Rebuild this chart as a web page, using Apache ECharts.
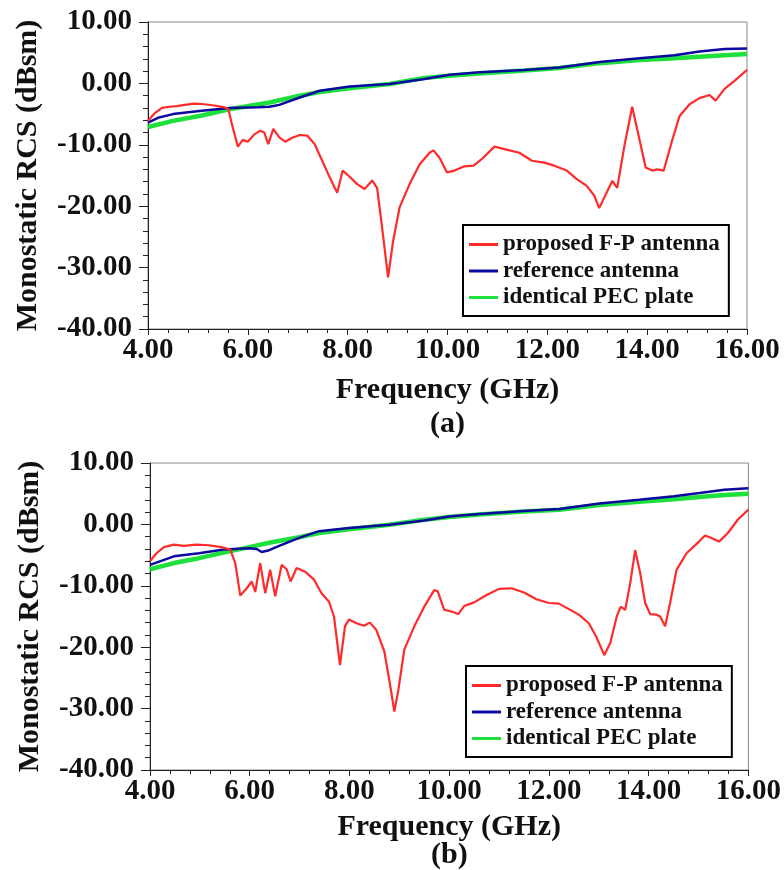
<!DOCTYPE html>
<html>
<head>
<meta charset="utf-8">
<script src="https://cdn.jsdelivr.net/npm/echarts@6/dist/echarts.min.js"></script>
<style>
html,body{margin:0;padding:0;background:#fff;}
#chart{width:784px;height:870px;}
</style>
</head>
<body>
<div id="chart"></div>
<script>
// ---- Chart (a) ----
const redAFreq = [4.00,4.13,4.28,4.43,4.58,4.73,4.93,5.13,5.33,5.53,5.61,5.68,5.80,5.90,6.00,6.13,6.25,6.33,6.41,6.51,6.63,6.75,6.88,7.04,7.19,7.34,7.49,7.64,7.79,7.90,8.04,8.19,8.34,8.49,8.59,8.69,8.81,8.91,9.04,9.24,9.44,9.64,9.72,9.84,9.99,10.14,10.34,10.52,10.69,10.94,11.14,11.44,11.69,11.94,12.14,12.39,12.59,12.79,12.94,13.04,13.14,13.30,13.40,13.55,13.70,13.85,13.97,14.10,14.20,14.33,14.50,14.65,14.85,15.05,15.25,15.37,15.55,15.75,16.00];
const redAVal  = [-6.1,-4.9,-4.0,-3.8,-3.7,-3.5,-3.3,-3.4,-3.6,-3.9,-4.2,-6.6,-10.3,-9.2,-9.5,-8.3,-7.7,-8.0,-9.9,-7.4,-8.8,-9.5,-8.9,-8.4,-8.5,-9.9,-12.6,-15.3,-17.8,-14.2,-15.2,-16.4,-17.2,-15.8,-17.0,-23.5,-31.6,-25.7,-20.2,-16.4,-13.2,-11.3,-10.9,-12.1,-14.5,-14.2,-13.5,-13.4,-12.3,-10.3,-10.7,-11.3,-12.6,-12.9,-13.4,-14.2,-15.6,-16.7,-18.3,-20.3,-18.6,-15.9,-17.0,-9.9,-3.8,-9.3,-13.7,-14.2,-14.0,-14.2,-9.3,-5.3,-3.4,-2.4,-1.9,-2.8,-0.9,0.4,2.2];

const blueAFreq = [4.00,4.20,4.50,5.03,5.63,6.20,6.43,6.63,7.04,7.44,8.04,8.84,9.54,10.04,10.64,11.54,12.24,13.05,13.85,14.55,15.05,15.55,16.00];
const blueAVal  = [-6.4,-5.6,-5.0,-4.5,-4.0,-3.9,-3.8,-3.5,-2.3,-1.2,-0.5,-0.1,0.7,1.4,1.8,2.2,2.6,3.5,4.1,4.6,5.2,5.6,5.7];

const greenAFreq = [4.00,4.50,5.03,5.63,6.43,7.04,7.44,8.04,8.84,9.54,10.04,10.64,11.54,12.24,13.05,13.85,14.55,15.05,15.55,16.00];
const greenAVal  = [-7.1,-6.1,-5.3,-4.2,-3.1,-2.0,-1.4,-0.8,-0.1,0.9,1.25,1.6,2.1,2.5,3.3,3.8,4.1,4.35,4.6,4.8];

// ---- Chart (b) ----
const redBFreq = [4.00,4.13,4.28,4.48,4.68,4.93,5.18,5.43,5.61,5.71,5.81,5.94,6.04,6.11,6.21,6.31,6.41,6.51,6.64,6.74,6.82,6.94,7.11,7.29,7.44,7.59,7.69,7.81,7.91,7.99,8.14,8.29,8.41,8.54,8.70,8.82,8.90,8.98,9.10,9.30,9.50,9.70,9.77,9.90,10.05,10.18,10.30,10.50,10.75,11.00,11.25,11.50,11.75,12.00,12.20,12.40,12.60,12.80,12.95,13.11,13.23,13.36,13.44,13.53,13.63,13.73,13.83,13.93,14.03,14.16,14.23,14.33,14.43,14.56,14.76,15.01,15.13,15.26,15.41,15.59,15.79,16.00];
const redBVal  = [-6.0,-4.7,-3.7,-3.3,-3.5,-3.3,-3.4,-3.7,-4.1,-6.3,-11.6,-10.4,-9.3,-11.0,-6.3,-11.2,-7.4,-11.7,-6.6,-7.3,-9.3,-7.1,-7.7,-9.0,-11.2,-12.6,-15.0,-22.9,-16.6,-15.5,-16.1,-16.5,-16.0,-17.2,-20.7,-26.4,-30.5,-27.0,-20.4,-16.6,-13.4,-10.7,-10.9,-13.9,-14.2,-14.6,-13.3,-12.7,-11.5,-10.5,-10.4,-11.1,-12.2,-12.8,-12.9,-13.8,-14.7,-16.1,-18.3,-21.3,-19.3,-15.0,-13.4,-13.9,-9.6,-4.2,-7.9,-12.8,-14.6,-14.7,-15.0,-16.6,-12.8,-7.4,-4.7,-2.8,-1.8,-2.2,-2.8,-1.4,0.8,2.4];

const blueBFreq = [4.00,4.48,4.98,5.48,5.99,6.14,6.24,6.39,6.59,6.99,7.39,7.99,8.80,9.50,10.00,10.60,11.50,12.21,13.01,13.81,14.51,15.02,15.52,16.00];
const blueBVal  = [-6.6,-5.2,-4.7,-4.1,-3.9,-4.0,-4.5,-4.2,-3.5,-2.2,-1.1,-0.6,-0.05,0.65,1.3,1.7,2.2,2.5,3.4,4.0,4.6,5.1,5.65,5.9];

const greenBFreq = [4.00,4.48,4.98,5.48,5.99,6.39,6.99,7.39,7.99,8.80,9.50,10.00,10.60,11.50,12.21,13.01,13.81,14.51,15.02,15.52,16.00];
const greenBVal  = [-7.3,-6.3,-5.5,-4.6,-3.7,-3.0,-2.1,-1.4,-0.8,-0.05,0.75,1.2,1.6,2.1,2.4,3.15,3.7,4.1,4.45,4.8,5.0];

const seriesNames = ['proposed F-P antenna','reference antenna','identical PEC plate'];
const xTicks = {min:4, max:16, interval:2};
const yTicks = {min:-40, max:10, interval:10};

const zip = (xs, ys) => xs.map((x,i)=>[x, ys[i]]);
const FONT = '"Liberation Serif","Times New Roman",serif';
const RED = '#ff2a2a', BLUE = '#0a0aa0', GREEN = '#1ee03c';

function xAxis(gi, gap){
  return {
    type:'value', gridIndex:gi, min:xTicks.min, max:xTicks.max, interval:xTicks.interval,
    name:'Frequency (GHz)', nameLocation:'middle', nameGap:gap,
    nameTextStyle:{fontFamily:FONT, fontWeight:'bold', fontSize:30, color:'#111'},
    axisLine:{show:true, onZero:false, lineStyle:{color:'#222', width:1}},
    axisTick:{show:true, inside:false, length:6, lineStyle:{color:'#222'}},
    minorTick:{show:true, splitNumber:5, length:4, lineStyle:{color:'#222'}},
    splitLine:{show:false},
    axisLabel:{fontFamily:FONT, fontWeight:'bold', fontSize:29, color:'#111', margin:7,
      formatter:v=>v.toFixed(2)}
  };
}
function yAxis(gi){
  return {
    type:'value', gridIndex:gi, min:yTicks.min, max:yTicks.max, interval:yTicks.interval,
    name:'Monostatic RCS (dBsm)', nameLocation:'middle', nameGap:105,
    nameTextStyle:{fontFamily:FONT, fontWeight:'bold', fontSize:30, color:'#111'},
    axisLine:{show:true, onZero:false, lineStyle:{color:'#222', width:1}},
    axisTick:{show:true, inside:false, length:9, lineStyle:{color:'#222'}},
    minorTick:{show:true, splitNumber:5, length:5, lineStyle:{color:'#222'}},
    splitLine:{show:false},
    axisLabel:{fontFamily:FONT, fontWeight:'bold', fontSize:29, color:'#111', margin:16,
      formatter:v=>v.toFixed(2)}
  };
}
function legend(left, top){
  return {
    data:seriesNames, orient:'vertical', left:left, top:top,
    icon:'rect', itemWidth:29, itemHeight:3, itemGap:3.5,
    padding:[8,9,7,6], borderColor:'#000', borderWidth:2, backgroundColor:'#fff',
    textStyle:{fontFamily:FONT, fontWeight:'bold', fontSize:23, color:'#111'},
    selectedMode:false
  };
}
function line(name, data, color, width, gi, z){
  return {type:'line', name:name, data:data, xAxisIndex:gi, yAxisIndex:gi,
    showSymbol:false, symbol:'none', smooth:false, z:z,
    lineStyle:{color:color, width:width}, itemStyle:{color:color}};
}

const chart = echarts.init(document.getElementById('chart'), null, {renderer:'canvas'});
chart.setOption({
  backgroundColor:'#fff',
  animation:false,
  title:[
    {text:'(a)', left:430, top:409, textStyle:{fontFamily:FONT, fontWeight:'bold', fontSize:30, color:'#111'}, padding:0},
    {text:'(b)', left:431, top:840, textStyle:{fontFamily:FONT, fontWeight:'bold', fontSize:30, color:'#111'}, padding:0}
  ],
  grid:[
    {left:148, top:22, width:599, height:307, show:true, borderColor:'#888', borderWidth:1, backgroundColor:'#fff'},
    {left:150, top:463, width:599, height:307, show:true, borderColor:'#888', borderWidth:1, backgroundColor:'#fff'}
  ],
  xAxis:[xAxis(0, 46), xAxis(1, 42)],
  yAxis:[yAxis(0), yAxis(1)],
  legend:[legend(463,225), legend(466,666)],
  series:[
    line(seriesNames[2], zip(greenAFreq, greenAVal), GREEN, 4.5, 0, 2),
    line(seriesNames[1], zip(blueAFreq, blueAVal), BLUE, 2.5, 0, 3),
    line(seriesNames[0], zip(redAFreq, redAVal), RED, 2.2, 0, 4),
    line(seriesNames[2], zip(greenBFreq, greenBVal), GREEN, 4.5, 1, 2),
    line(seriesNames[1], zip(blueBFreq, blueBVal), BLUE, 2.5, 1, 3),
    line(seriesNames[0], zip(redBFreq, redBVal), RED, 2.2, 1, 4)
  ]
});
</script>
</body>
</html>
